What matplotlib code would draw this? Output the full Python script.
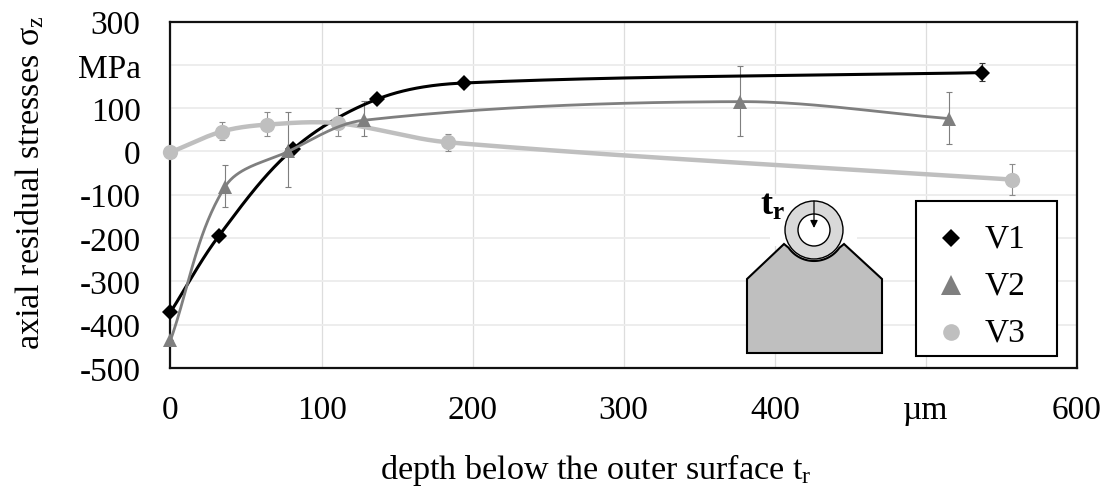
import numpy as np
import matplotlib
matplotlib.use("Agg")
import matplotlib.pyplot as plt
from matplotlib.patches import Polygon, Circle, Rectangle, FancyArrowPatch

plt.rcParams['font.family'] = ['Liberation Serif', 'DejaVu Serif']
plt.rcParams['mathtext.fontset'] = 'custom'
plt.rcParams['mathtext.rm'] = 'Liberation Serif'
plt.rcParams['mathtext.bf'] = 'Liberation Serif:bold'
plt.rcParams['mathtext.it'] = 'Liberation Serif:italic'

v1_x = [0, 32, 81, 137, 194, 537]
v1_y = [-371, -195, 5, 121, 158, 182]
v1_hi = [-371, -195, 5, 121, 158, 205]
v1_lo = [-371, -195, 5, 121, 158, 162]

v2_x = [0, 36, 78, 128, 377, 515]
v2_y = [-436, -82, 0, 72, 115, 76]
v2_hi = [-436, -32, 90, 117, 198, 138]
v2_lo = [-436, -128, -82, 35, 35, 18]

v3_x = [0, 34, 64, 111, 184, 557]
v3_y = [-2, 46, 62, 65, 21, -65]
v3_hi = [-2, 67, 90, 100, 41, -30]
v3_lo = [-2, 26, 35, 35, 0, -100]

x_ticks = [0, 100, 200, 300, 400, 500, 600]
x_labels = ['0', '100', '200', '300', '400', 'µm', '600']
y_ticks = [300, 200, 100, 0, -100, -200, -300, -400, -500]
y_labels = ['300', 'MPa', '100', '0', '-100', '-200', '-300', '-400', '-500']

W, H = 1107, 489
L, R, T, B = 170.5, 1077, 22.5, 369
FS = 24
sx_scale = (R - L) / 600
sy_scale = (B - T) / 800


def smooth(x, y, n=40):
    """Smoothed line through the points: Bezier with Catmull-Rom directions and chord-scaled handles."""
    p = np.c_[np.asarray(x, float) * sx_scale, np.asarray(y, float) * sy_scale]
    tang = np.zeros_like(p)
    tang[0] = p[1] - p[0]
    tang[-1] = p[-1] - p[-2]
    tang[1:-1] = p[2:] - p[:-2]
    tang /= np.linalg.norm(tang, axis=1, keepdims=True)
    t = np.linspace(0, 1, n)[:, None]
    out = []
    for i in range(len(p) - 1):
        d = np.linalg.norm(p[i + 1] - p[i]) / 3
        c1 = p[i] + tang[i] * d
        c2 = p[i + 1] - tang[i + 1] * d
        out.append((1 - t) ** 3 * p[i] + 3 * (1 - t) ** 2 * t * c1 + 3 * (1 - t) * t ** 2 * c2 + t ** 3 * p[i + 1])
    out = np.vstack(out)
    return out[:, 0] / sx_scale, out[:, 1] / sy_scale


fig = plt.figure(figsize=(W / 100, H / 100), dpi=100)
ax = fig.add_axes([L / W, 1 - B / H, (R - L) / W, (B - T) / H])
ax.set_xlim(0, 600)
ax.set_ylim(-500, 300)
ax.set_xticks(x_ticks, x_labels)
ax.set_yticks(y_ticks, y_labels)
ax.tick_params(length=0, labelsize=FS)
ax.tick_params(axis='y', pad=21.5)
ax.tick_params(axis='x', pad=19)
ax.grid(axis='y', color='#ececec', lw=1.3, zorder=0)
ax.grid(axis='x', color='#dddddd', lw=0.9, zorder=0)
ax.set_axisbelow(True)
for s in ax.spines.values():
    s.set_linewidth(1.6)
    s.set_color('#111111')
    s.set_zorder(2.1)

for x, y, hi, lo, c in [(v1_x, v1_y, v1_hi, v1_lo, '#333333'),
                        (v2_x, v2_y, v2_hi, v2_lo, '#7f7f7f'),
                        (v3_x, v3_y, v3_hi, v3_lo, '#8c8c8c')]:
    ax.errorbar(x, y, yerr=[np.subtract(y, lo), np.subtract(hi, y)], fmt='none',
                ecolor=c, elinewidth=0.8, capsize=2.5, capthick=0.8, zorder=3)

series = [
    (v1_x, v1_y, 'black', 2.2, 'D', 8.2, 4),
    (v3_x, v3_y, '#bfbfbf', 3.2, 'o', 11, 5),
    (v2_x, v2_y, '#7f7f7f', 2.0, '^', 10.5, 6),
]
for x, y, c, lw, m, ms, z in series:
    sx, sy = smooth(x, y)
    ax.plot(sx, sy, color=c, lw=lw, zorder=z, clip_on=False, solid_capstyle='round')
    ax.plot(x, y, ls='none', marker=m, color=c, ms=ms, mew=0, zorder=z, clip_on=False)

fig.text(595.5 / W, 1 - 479 / H, 'depth below the outer surface t$_{\\mathrm{r}}$', fontsize=24.6,
         ha='center', va='baseline')
fig.text(30 / W, 1 - 182.5 / H, 'axial residual stresses σ$_{\\mathrm{z}}$', fontsize=24.6,
         rotation=90, ha='center', va='center')

# Overlay in pixel coordinates for the inset sketch and the legend box
ov = fig.add_axes([0, 0, 1, 1], facecolor='none')
ov.set_xlim(0, W)
ov.set_ylim(H, 0)
ov.axis('off')
ov.add_patch(Rectangle((770, 197), 87, 50, fc='white', ec='none', zorder=1))
cx, cy, rad = 814, 231, 31
ang = np.linspace(np.deg2rad(145), np.deg2rad(35), 40)
arc = np.c_[cx + rad * np.cos(ang), cy + rad * np.sin(ang)]
poly = np.vstack([[[747, 354], [747, 280], [784, 245]], arc, [[844, 245], [882, 280], [882, 354]]])
ov.add_patch(Polygon(poly, closed=True, fc='#bfbfbf', ec='black', lw=1.5, zorder=2, joinstyle='miter'))
ov.add_patch(Circle((cx, cy), 29, fc='#d9d9d9', ec='black', lw=1.0, zorder=3))
ov.add_patch(Circle((cx, cy), 16, fc='white', ec='black', lw=1.0, zorder=4))
ov.add_patch(FancyArrowPatch((cx, 202), (cx, 229), arrowstyle='-|>', mutation_scale=11,
                             color='black', lw=0.9, shrinkA=0, shrinkB=0, zorder=5))
ov.text(760, 206, 't$_{\\mathbf{r}}$', fontsize=FS + 2, fontweight='bold', ha='left', va='center', zorder=5)

ov.add_patch(Rectangle((916, 202), 141, 155, fc='white', ec='black', lw=1.5, zorder=2))
leg_names = ['V1', 'V2', 'V3']
leg_y = [239, 286, 333]
leg_style = [('D', 'black', 8.7), ('^', '#7f7f7f', 14.4), ('o', '#bfbfbf', 12)]
for name, yy, (m, c, ms) in zip(leg_names, leg_y, leg_style):
    ov.plot([951], [yy], ls='none', marker=m, color=c, ms=ms, mew=0, zorder=3)
    ov.text(985, yy, name, fontsize=FS, ha='left', va='center', zorder=3)

fig.savefig('out.png', dpi=100)
